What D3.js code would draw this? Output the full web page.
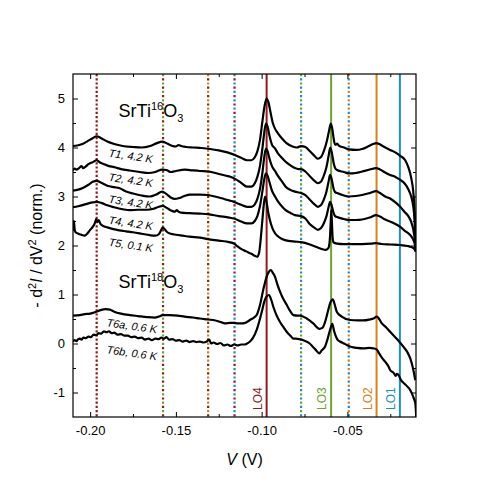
<!DOCTYPE html>
<html>
<head>
<meta charset="utf-8">
<script src="https://cdn.jsdelivr.net/npm/d3@7"></script>
<style>
  body { margin: 0; background: #fff; }
  svg { font-family: "Liberation Sans", Arial, sans-serif; }
</style>
</head>
<body>
<script>
// Tick values
const xMajor = [-0.20, -0.15, -0.10, -0.05];
const xMinor = [-0.175, -0.125, -0.075, -0.025];
const yMajor = [-1, 0, 1, 2, 3, 4, 5];
const yMinor = [-0.5, 0.5, 1.5, 2.5, 3.5, 4.5];

// Phonon modes (solid lines) and their combinations (dotted lines), V
const modes = ["LO4", "LO3", "LO2", "LO1"];
const modeV = [-0.0971, -0.0595, -0.0330, -0.0194];
const comboV = [-0.1962, -0.1575, -0.1312, -0.1158, -0.0770, -0.0492];
const comboModes = [["LO4", "LO4"], ["LO3", "LO4"], ["LO2", "LO4"], ["LO1", "LO4"], ["LO3", "LO1"], ["LO2", "LO1"]];

// Spectra: [V, -d2I/dV2]
const t1 = [[-0.2102, 4.03], [-0.2075, 4.04], [-0.2045, 4.07], [-0.2015, 4.13], [-0.1985, 4.19], [-0.1962, 4.23], [-0.1935, 4.19], [-0.1900, 4.12], [-0.1860, 4.07], [-0.1810, 4.03], [-0.1750, 4.01], [-0.1700, 4.0], [-0.1650, 4.03], [-0.1610, 4.09], [-0.1580, 4.12], [-0.1550, 4.08], [-0.1520, 4.03], [-0.1500, 4.02], [-0.1485, 4.05], [-0.1470, 4.03], [-0.1440, 4.01], [-0.1400, 4.0], [-0.1350, 3.99], [-0.1300, 3.97], [-0.1250, 3.94], [-0.1200, 3.9], [-0.1160, 3.85], [-0.1120, 3.79], [-0.1085, 3.74], [-0.1060, 3.74], [-0.1040, 3.8], [-0.1025, 3.92], [-0.1010, 4.15], [-0.0995, 4.55], [-0.0983, 4.85], [-0.0971, 5.0], [-0.0960, 4.92], [-0.0950, 4.75], [-0.0935, 4.5], [-0.0920, 4.37], [-0.0905, 4.29], [-0.0880, 4.18], [-0.0855, 4.09], [-0.0820, 4.02], [-0.0795, 4.0], [-0.0770, 4.03], [-0.0745, 4.01], [-0.0720, 3.93], [-0.0695, 3.84], [-0.0672, 3.77], [-0.0655, 3.8], [-0.0638, 3.92], [-0.0622, 4.1], [-0.0608, 4.32], [-0.0597, 4.49], [-0.0588, 4.38], [-0.0580, 4.18], [-0.0572, 4.06], [-0.0565, 4.06], [-0.0560, 4.08], [-0.0550, 4.04], [-0.0520, 4.0], [-0.0490, 3.96], [-0.0450, 3.95], [-0.0414, 3.97], [-0.0380, 4.02], [-0.0350, 4.07], [-0.0332, 4.09], [-0.0315, 4.07], [-0.0290, 4.02], [-0.0251, 3.95], [-0.0221, 3.9], [-0.0192, 3.83], [-0.0163, 3.74], [-0.0145, 3.6], [-0.0128, 3.38], [-0.0116, 3.1], [-0.0108, 2.7], [-0.0101, 1.9]];
const t2 = [[-0.2102, 3.53], [-0.2090, 3.57], [-0.2080, 3.55], [-0.2065, 3.58], [-0.2050, 3.62], [-0.2040, 3.58], [-0.2030, 3.6], [-0.2010, 3.66], [-0.1985, 3.7], [-0.1962, 3.74], [-0.1945, 3.7], [-0.1920, 3.66], [-0.1890, 3.62], [-0.1860, 3.6], [-0.1820, 3.56], [-0.1770, 3.53], [-0.1710, 3.5], [-0.1660, 3.48], [-0.1620, 3.5], [-0.1580, 3.55], [-0.1555, 3.54], [-0.1530, 3.5], [-0.1500, 3.52], [-0.1450, 3.55], [-0.1419, 3.54], [-0.1360, 3.52], [-0.1310, 3.51], [-0.1250, 3.46], [-0.1190, 3.41], [-0.1160, 3.37], [-0.1120, 3.28], [-0.1086, 3.2], [-0.1060, 3.2], [-0.1040, 3.27], [-0.1025, 3.4], [-0.1010, 3.62], [-0.0995, 4.0], [-0.0985, 4.3], [-0.0975, 4.49], [-0.0965, 4.42], [-0.0955, 4.25], [-0.0940, 4.06], [-0.0922, 3.98], [-0.0905, 3.88], [-0.0880, 3.78], [-0.0860, 3.71], [-0.0830, 3.63], [-0.0806, 3.58], [-0.0785, 3.56], [-0.0770, 3.56], [-0.0745, 3.51], [-0.0720, 3.42], [-0.0695, 3.33], [-0.0672, 3.27], [-0.0655, 3.3], [-0.0638, 3.42], [-0.0622, 3.6], [-0.0610, 3.82], [-0.0600, 4.0], [-0.0590, 3.88], [-0.0580, 3.68], [-0.0570, 3.57], [-0.0560, 3.54], [-0.0520, 3.5], [-0.0490, 3.47], [-0.0450, 3.48], [-0.0414, 3.51], [-0.0370, 3.55], [-0.0332, 3.58], [-0.0310, 3.55], [-0.0280, 3.49], [-0.0251, 3.44], [-0.0220, 3.4], [-0.0192, 3.34], [-0.0165, 3.26], [-0.0145, 3.15], [-0.0128, 3.0], [-0.0116, 2.8], [-0.0108, 2.5], [-0.0101, 1.9]];
const t3 = [[-0.2102, 3.12], [-0.2070, 3.14], [-0.2040, 3.18], [-0.2010, 3.24], [-0.1985, 3.3], [-0.1962, 3.32], [-0.1935, 3.28], [-0.1900, 3.22], [-0.1860, 3.19], [-0.1828, 3.17], [-0.1790, 3.1], [-0.1750, 3.06], [-0.1700, 3.02], [-0.1652, 3.0], [-0.1615, 3.04], [-0.1580, 3.1], [-0.1555, 3.05], [-0.1530, 2.98], [-0.1506, 2.95], [-0.1480, 2.97], [-0.1450, 3.01], [-0.1419, 3.04], [-0.1360, 3.04], [-0.1314, 3.03], [-0.1250, 2.98], [-0.1190, 2.92], [-0.1162, 2.89], [-0.1120, 2.83], [-0.1086, 2.79], [-0.1060, 2.79], [-0.1040, 2.84], [-0.1025, 2.95], [-0.1010, 3.15], [-0.0995, 3.5], [-0.0985, 3.8], [-0.0975, 3.98], [-0.0965, 3.92], [-0.0955, 3.78], [-0.0940, 3.62], [-0.0922, 3.52], [-0.0905, 3.42], [-0.0880, 3.3], [-0.0860, 3.2], [-0.0830, 3.13], [-0.0806, 3.1], [-0.0770, 3.07], [-0.0745, 3.03], [-0.0720, 2.94], [-0.0695, 2.85], [-0.0672, 2.79], [-0.0655, 2.82], [-0.0638, 2.93], [-0.0622, 3.1], [-0.0610, 3.3], [-0.0601, 3.44], [-0.0592, 3.36], [-0.0582, 3.18], [-0.0572, 3.09], [-0.0560, 3.07], [-0.0520, 3.02], [-0.0490, 3.0], [-0.0450, 3.01], [-0.0414, 3.03], [-0.0370, 3.07], [-0.0332, 3.11], [-0.0310, 3.07], [-0.0280, 3.0], [-0.0251, 2.96], [-0.0220, 2.88], [-0.0192, 2.79], [-0.0165, 2.68], [-0.0145, 2.6], [-0.0128, 2.48], [-0.0116, 2.33], [-0.0108, 2.15], [-0.0101, 1.9]];
const t4 = [[-0.2102, 2.78], [-0.2070, 2.8], [-0.2040, 2.83], [-0.2010, 2.86], [-0.1985, 2.88], [-0.1962, 2.89], [-0.1935, 2.87], [-0.1900, 2.82], [-0.1860, 2.78], [-0.1810, 2.74], [-0.1769, 2.72], [-0.1720, 2.73], [-0.1670, 2.73], [-0.1630, 2.75], [-0.1600, 2.79], [-0.1577, 2.81], [-0.1550, 2.76], [-0.1525, 2.71], [-0.1506, 2.69], [-0.1495, 2.72], [-0.1485, 2.69], [-0.1470, 2.67], [-0.1419, 2.66], [-0.1360, 2.65], [-0.1314, 2.64], [-0.1250, 2.6], [-0.1190, 2.57], [-0.1162, 2.55], [-0.1120, 2.49], [-0.1086, 2.45], [-0.1060, 2.45], [-0.1040, 2.5], [-0.1025, 2.6], [-0.1010, 2.8], [-0.0995, 3.12], [-0.0985, 3.35], [-0.0975, 3.47], [-0.0965, 3.42], [-0.0955, 3.3], [-0.0940, 3.12], [-0.0922, 3.0], [-0.0905, 2.9], [-0.0880, 2.79], [-0.0860, 2.72], [-0.0830, 2.66], [-0.0806, 2.62], [-0.0770, 2.6], [-0.0745, 2.55], [-0.0720, 2.44], [-0.0695, 2.37], [-0.0672, 2.32], [-0.0655, 2.35], [-0.0638, 2.45], [-0.0622, 2.6], [-0.0610, 2.78], [-0.0601, 2.89], [-0.0592, 2.82], [-0.0582, 2.68], [-0.0572, 2.6], [-0.0560, 2.58], [-0.0520, 2.54], [-0.0490, 2.52], [-0.0450, 2.52], [-0.0414, 2.53], [-0.0370, 2.57], [-0.0332, 2.62], [-0.0310, 2.59], [-0.0280, 2.53], [-0.0251, 2.49], [-0.0220, 2.44], [-0.0192, 2.38], [-0.0165, 2.3], [-0.0145, 2.25], [-0.0128, 2.19], [-0.0116, 2.12], [-0.0108, 2.04], [-0.0101, 1.9]];
const t5 = [[-0.2102, 2.3], [-0.2099, 2.46], [-0.2095, 2.5], [-0.2090, 2.32], [-0.2085, 2.27], [-0.2075, 2.25], [-0.2060, 2.23], [-0.2045, 2.21], [-0.2032, 2.2], [-0.2015, 2.25], [-0.2000, 2.32], [-0.1985, 2.38], [-0.1972, 2.46], [-0.1965, 2.54], [-0.1958, 2.48], [-0.1950, 2.52], [-0.1940, 2.44], [-0.1925, 2.4], [-0.1900, 2.37], [-0.1870, 2.34], [-0.1830, 2.31], [-0.1790, 2.29], [-0.1750, 2.27], [-0.1700, 2.24], [-0.1652, 2.21], [-0.1620, 2.2], [-0.1600, 2.23], [-0.1588, 2.3], [-0.1577, 2.37], [-0.1565, 2.33], [-0.1550, 2.27], [-0.1530, 2.24], [-0.1500, 2.22], [-0.1460, 2.2], [-0.1419, 2.18], [-0.1360, 2.16], [-0.1314, 2.13], [-0.1250, 2.1], [-0.1190, 2.07], [-0.1162, 2.04], [-0.1140, 1.98], [-0.1120, 1.93], [-0.1090, 1.88], [-0.1060, 1.83], [-0.1040, 1.79], [-0.1027, 1.77], [-0.1015, 1.85], [-0.1005, 2.15], [-0.0995, 2.55], [-0.0987, 2.85], [-0.0980, 3.0], [-0.0972, 2.9], [-0.0963, 2.7], [-0.0952, 2.52], [-0.0938, 2.36], [-0.0922, 2.25], [-0.0895, 2.16], [-0.0864, 2.11], [-0.0806, 2.08], [-0.0770, 2.07], [-0.0718, 2.02], [-0.0680, 1.97], [-0.0650, 1.93], [-0.0625, 1.91], [-0.0610, 1.95], [-0.0602, 2.15], [-0.0597, 2.5], [-0.0594, 2.72], [-0.0590, 2.45], [-0.0586, 2.15], [-0.0580, 2.06], [-0.0560, 2.04], [-0.0520, 2.03], [-0.0470, 2.03], [-0.0414, 2.03], [-0.0360, 2.04], [-0.0332, 2.05], [-0.0300, 2.03], [-0.0250, 2.02], [-0.0192, 2.01], [-0.0150, 1.99], [-0.0128, 1.97], [-0.0112, 1.94], [-0.0101, 1.87]];
const t6a = [[-0.2102, 0.57], [-0.2060, 0.58], [-0.2032, 0.6], [-0.2000, 0.61], [-0.1970, 0.64], [-0.1940, 0.68], [-0.1909, 0.7], [-0.1885, 0.69], [-0.1860, 0.65], [-0.1820, 0.61], [-0.1769, 0.58], [-0.1720, 0.56], [-0.1670, 0.54], [-0.1623, 0.53], [-0.1600, 0.55], [-0.1577, 0.58], [-0.1536, 0.58], [-0.1490, 0.57], [-0.1450, 0.55], [-0.1400, 0.53], [-0.1360, 0.51], [-0.1314, 0.49], [-0.1270, 0.47], [-0.1240, 0.44], [-0.1214, 0.41], [-0.1185, 0.42], [-0.1162, 0.42], [-0.1140, 0.41], [-0.1110, 0.41], [-0.1085, 0.44], [-0.1068, 0.48], [-0.1045, 0.53], [-0.1029, 0.58], [-0.1010, 0.78], [-0.0991, 1.09], [-0.0971, 1.36], [-0.0958, 1.46], [-0.0947, 1.5], [-0.0935, 1.44], [-0.0922, 1.36], [-0.0908, 1.2], [-0.0893, 1.06], [-0.0875, 0.92], [-0.0854, 0.79], [-0.0835, 0.67], [-0.0815, 0.58], [-0.0790, 0.57], [-0.0776, 0.57], [-0.0737, 0.51], [-0.0699, 0.41], [-0.0664, 0.3], [-0.0645, 0.32], [-0.0630, 0.44], [-0.0612, 0.68], [-0.0601, 0.82], [-0.0585, 0.9], [-0.0573, 0.78], [-0.0562, 0.65], [-0.0533, 0.55], [-0.0484, 0.48], [-0.0440, 0.47], [-0.0407, 0.47], [-0.0370, 0.49], [-0.0348, 0.51], [-0.0328, 0.55], [-0.0315, 0.5], [-0.0299, 0.41], [-0.0275, 0.33], [-0.0251, 0.24], [-0.0211, 0.09], [-0.0173, -0.07], [-0.0150, -0.18], [-0.0134, -0.3], [-0.0118, -0.5], [-0.0104, -0.75]];
const t6b = [[-0.2102, 0.04], [-0.2090, 0.07], [-0.2080, 0.05], [-0.2070, 0.09], [-0.2060, 0.1], [-0.2050, 0.08], [-0.2040, 0.12], [-0.2025, 0.11], [-0.2010, 0.14], [-0.1995, 0.13], [-0.1980, 0.18], [-0.1965, 0.17], [-0.1950, 0.21], [-0.1935, 0.2], [-0.1920, 0.25], [-0.1905, 0.23], [-0.1890, 0.25], [-0.1875, 0.21], [-0.1860, 0.22], [-0.1840, 0.18], [-0.1820, 0.19], [-0.1800, 0.16], [-0.1780, 0.16], [-0.1760, 0.13], [-0.1740, 0.14], [-0.1720, 0.11], [-0.1700, 0.12], [-0.1680, 0.08], [-0.1660, 0.1], [-0.1640, 0.07], [-0.1620, 0.1], [-0.1600, 0.09], [-0.1585, 0.12], [-0.1570, 0.1], [-0.1555, 0.13], [-0.1540, 0.08], [-0.1520, 0.09], [-0.1500, 0.06], [-0.1480, 0.07], [-0.1460, 0.04], [-0.1440, 0.06], [-0.1420, 0.03], [-0.1400, 0.05], [-0.1380, 0.03], [-0.1360, 0.04], [-0.1340, 0.02], [-0.1320, 0.04], [-0.1305, 0.08], [-0.1295, 0.0], [-0.1280, 0.02], [-0.1260, -0.01], [-0.1240, 0.01], [-0.1220, -0.04], [-0.1200, -0.02], [-0.1180, -0.05], [-0.1160, -0.02], [-0.1140, -0.04], [-0.1120, -0.02], [-0.1100, -0.02], [-0.1085, 0.0], [-0.1068, 0.04], [-0.1050, 0.12], [-0.1029, 0.28], [-0.1010, 0.5], [-0.0999, 0.65], [-0.0985, 0.85], [-0.0971, 0.96], [-0.0957, 0.99], [-0.0945, 0.9], [-0.0932, 0.75], [-0.0910, 0.55], [-0.0893, 0.44], [-0.0870, 0.32], [-0.0854, 0.24], [-0.0830, 0.15], [-0.0815, 0.1], [-0.0800, 0.1], [-0.0780, 0.09], [-0.0760, 0.07], [-0.0740, 0.04], [-0.0720, 0.0], [-0.0703, -0.06], [-0.0685, -0.13], [-0.0664, -0.2], [-0.0650, -0.14], [-0.0630, -0.06], [-0.0615, 0.1], [-0.0601, 0.28], [-0.0588, 0.4], [-0.0578, 0.26], [-0.0570, 0.17], [-0.0558, 0.08], [-0.0543, 0.04], [-0.0520, 0.0], [-0.0504, -0.03], [-0.0485, -0.06], [-0.0465, -0.08], [-0.0445, -0.09], [-0.0407, -0.1], [-0.0370, -0.09], [-0.0348, -0.1], [-0.0330, -0.12], [-0.0315, -0.2], [-0.0299, -0.29], [-0.0280, -0.37], [-0.0260, -0.47], [-0.0251, -0.54], [-0.0230, -0.6], [-0.0218, -0.66], [-0.0212, -0.62], [-0.0203, -0.64], [-0.0185, -0.76], [-0.0173, -0.8], [-0.0150, -0.88], [-0.0134, -0.95], [-0.0115, -1.1], [-0.0104, -1.22], [-0.0098, -1.52]];

const curves = [t1, t2, t3, t4, t5, t6a, t6b];
const curveNames = ["T1, 4.2 K", "T2, 4.2 K", "T3, 4.2 K", "T4, 4.2 K", "T5, 0.1 K", "T6a, 0.6 K", "T6b, 0.6 K"];
const curveLabelAt = [[-0.1763, 3.83], [-0.1763, 3.34], [-0.1763, 2.89], [-0.1763, 2.46], [-0.1763, 2.01], [-0.1757, 0.36], [-0.1757, -0.19]];

// Sample labels: [isotope, anchor V, anchor y]
const samples = [["16", -0.1834, 4.63], ["18", -0.1834, 1.13]];

const modeColor = { LO1: "#1f8dc0", LO2: "#d8811d", LO3: "#6fa331", LO4: "#8e1c1c" };

// Chart dimensions
const width = 491;
const height = 491;
const marginTop = 74;
const marginRight = 75;
const marginBottom = 74;
const marginLeft = 73;

const x = d3.scaleLinear()
    .domain([-0.21, -0.01])
    .range([marginLeft, width - marginRight]);

const y = d3.scaleLinear()
    .domain([-1.5, 5.5])
    .range([height - marginBottom, marginTop]);

const svg = d3.select("body")
    .append("svg")
        .attr("width", width)
        .attr("height", height);

svg.append("clipPath")
    .attr("id", "plot")
    .append("rect")
        .attr("x", marginLeft)
        .attr("y", marginTop)
        .attr("width", width - marginLeft - marginRight)
        .attr("height", height - marginTop - marginBottom);

// Combination lines: dots of the two mode colours take turns
const combo = svg.append("g").attr("stroke-width", 2.2).attr("fill", "none");
comboV.forEach((v, i) => {
    comboModes[i].forEach((m, j) => {
        combo.append("line")
            .attr("x1", x(v)).attr("x2", x(v))
            .attr("y1", y(5.5)).attr("y2", y(-1.5))
            .attr("stroke", modeColor[m])
            .attr("stroke-dasharray", "2.2,6.2")
            .attr("stroke-dashoffset", j * 4.2);
    });
});

// Mode lines
svg.append("g")
    .selectAll("line")
    .data(modes)
    .join("line")
        .attr("x1", (d, i) => x(modeV[i]))
        .attr("x2", (d, i) => x(modeV[i]))
        .attr("y1", y(5.5))
        .attr("y2", y(-1.5))
        .attr("stroke", d => modeColor[d])
        .attr("stroke-width", 2);

svg.append("g")
    .selectAll("text")
    .data(modes)
    .join("text")
        .attr("transform", (d, i) => `translate(${x(modeV[i]) - 5},410) rotate(-90)`)
        .attr("fill", d => modeColor[d])
        .style("font-size", "12px")
        .text(d => d);

// Spectra
const line = d3.line()
    .x(d => x(d[0]))
    .y(d => y(d[1]))
    .curve(d3.curveMonotoneX);

svg.append("g")
    .attr("clip-path", "url(#plot)")
    .selectAll("path")
    .data(curves)
    .join("path")
        .attr("fill", "none")
        .attr("stroke", "#000")
        .attr("stroke-width", 2.2)
        .attr("stroke-linejoin", "round")
        .attr("d", line);

svg.append("g")
    .selectAll("text")
    .data(curveNames)
    .join("text")
        .attr("transform", (d, i) => `translate(${x(curveLabelAt[i][0])},${y(curveLabelAt[i][1])}) rotate(8)`)
        .attr("text-anchor", "middle")
        .attr("dominant-baseline", "central")
        .style("font-size", "11px")
        .style("font-style", "italic")
        .text(d => d);

// SrTi16O3 / SrTi18O3
samples.forEach(s => {
    const t = svg.append("text")
        .attr("x", x(s[1]))
        .attr("y", y(s[2]))
        .style("font-size", "18px");
    t.append("tspan").text("SrTi");
    t.append("tspan").attr("dy", -7).style("font-size", "11px").text(s[0]);
    t.append("tspan").attr("dy", 7).text("O");
    t.append("tspan").attr("dy", 5).style("font-size", "11px").text("3");
});

// Axes: ticks inside on all four sides
function ticks(axis, values, size, labels) {
    return axis.tickValues(values).tickSize(size).tickSizeOuter(0)
        .tickFormat(labels ? labels : "");
}

const axes = [
    [d3.axisBottom(x), `translate(0,${height - marginBottom})`, xMajor, xMinor, d => d.toFixed(2), 9],
    [d3.axisTop(x), `translate(0,${marginTop})`, xMajor, xMinor, null, 8],
    [d3.axisLeft(y), `translate(${marginLeft},0)`, yMajor, yMinor, d => String(d), 8],
    [d3.axisRight(y), `translate(${width - marginRight},0)`, yMajor, yMinor, null, 8]
];

axes.forEach(([axis, tr, major, minor, fmt, pad]) => {
    const g = svg.append("g")
        .attr("transform", tr)
        .call(ticks(axis, major, -5, fmt).tickPadding(pad));
    g.attr("font-family", null);
    g.selectAll("text").style("font-size", "13px").attr("fill", "#000");
    g.select(".domain").remove();
    const m = svg.append("g")
        .attr("transform", tr)
        .call(ticks(axis, minor, -3, null));
    m.select(".domain").remove();
    m.selectAll("text").remove();
});

svg.append("rect")
    .attr("x", marginLeft)
    .attr("y", marginTop)
    .attr("width", width - marginLeft - marginRight)
    .attr("height", height - marginTop - marginBottom)
    .attr("fill", "none")
    .attr("stroke", "#000")
    .attr("stroke-width", 1.2);

// Axis titles
const xt = svg.append("text")
    .attr("x", (marginLeft + width - marginRight) / 2)
    .attr("y", 465)
    .attr("text-anchor", "middle")
    .style("font-size", "16px");
xt.append("tspan").style("font-style", "italic").text("V");
xt.append("tspan").text(" (V)");

const yt = svg.append("text")
    .attr("transform", `translate(42,${(marginTop + height - marginBottom) / 2}) rotate(-90)`)
    .attr("text-anchor", "middle")
    .style("font-size", "16px");
yt.append("tspan").text("- d");
yt.append("tspan").attr("dy", -6).style("font-size", "11px").text("2");
yt.append("tspan").attr("dy", 6).style("font-style", "italic").text("I");
yt.append("tspan").text(" / dV");
yt.append("tspan").attr("dy", -6).style("font-size", "11px").text("2");
yt.append("tspan").attr("dy", 6).text(" (norm.)");
</script>
</body>
</html>
